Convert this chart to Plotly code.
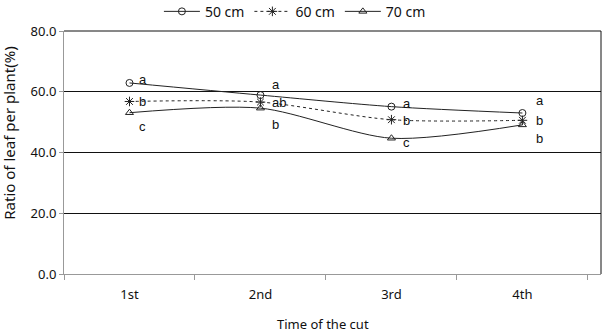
import plotly.graph_objects as go

categories = ["1st", "2nd", "3rd", "4th"]
series_names = ["50 cm", "60 cm", "70 cm"]
v50 = [62.9, 58.9, 55.1, 53.0]
v60 = [56.8, 56.6, 50.8, 50.6]
v70 = [53.1, 54.6, 44.7, 49.1]
letters50 = ["a", "a", "a", "a"]
letters60 = ["b", "ab", "b", "b"]
letters70 = ["c", "b", "c", "b"]
y_ticks = [0, 20, 40, 60, 80]
y_ticktext = ["0.0", "20.0", "40.0", "60.0", "80.0"]

# label offsets in pixels (style)
shift50 = [(12, 3), (14, 11), (14, 3), (16, 13)]
shift60 = [(12, 0), (14, 0), (14, -1), (16, 0)]
shift70 = [(12, -14), (14, -16), (14, -4), (16, -14)]

xs = list(range(len(categories)))
fig = go.Figure()
styles = [
    (v50, "circle-open", "solid", 7),
    (v60, "asterisk-open", "dot", 8),
    (v70, "triangle-up-open", "solid", 7),
]
for name, (vals, sym, dash, ms) in zip(series_names, styles):
    fig.add_trace(go.Scatter(
        x=xs, y=vals, name=name, mode="lines+markers",
        line=dict(color="#222222", width=1, dash=dash, shape="spline", smoothing=0.8),
        marker=dict(symbol=sym, size=ms, color="#222222", line=dict(width=1, color="#222222")),
    ))

for vals, letters, shifts in [(v50, letters50, shift50), (v60, letters60, shift60), (v70, letters70, shift70)]:
    for x, v, t, (dx, dy) in zip(xs, vals, letters, shifts):
        fig.add_annotation(x=x, y=v, text=t, showarrow=False, xanchor="left", yanchor="middle",
                           xshift=dx - 4, yshift=dy,
                           font=dict(family="Liberation Sans, Arial", size=13, color="#111111"))

fig.add_annotation(xref="paper", yref="paper", x=0.483, y=-0.205, text="Time of the cut",
                   showarrow=False, xanchor="center", yanchor="middle",
                   font=dict(family="Noto Sans", size=13, color="#111111"))
fig.add_annotation(xref="paper", yref="paper", x=-0.103, y=0.58, text="Ratio of leaf per plant(%)",
                   showarrow=False, textangle=-90, xanchor="center", yanchor="middle",
                   font=dict(family="Noto Sans", size=15, color="#111111"))

fig.update_layout(
    width=602, height=333,
    margin=dict(l=64, r=1, t=31, b=59, autoexpand=False),
    paper_bgcolor="white", plot_bgcolor="white",
    font=dict(family="Noto Sans", size=13, color="#111111"),
    showlegend=True,
    legend=dict(orientation="h", x=0.43, xanchor="center", y=1.145, yanchor="top",
                font=dict(size=14), itemwidth=36, tracegroupgap=0, bgcolor="rgba(0,0,0,0)"),
    xaxis=dict(range=[-0.5, 3.6], tickvals=xs, ticktext=categories, ticks="", showgrid=False,
               showline=True, linecolor="#999999", linewidth=1, zeroline=False, ticklabelstandoff=8,
               minor=dict(tickvals=[-0.5, 0.5, 1.5, 2.5, 3.5], ticks="outside", ticklen=5,
                          tickcolor="#999999", showgrid=False)),
    yaxis=dict(range=[0, 80], tickvals=y_ticks, ticktext=y_ticktext, ticks="outside", ticklen=4,
               tickcolor="#999999", showgrid=True, gridcolor="#111111", gridwidth=1,
               showline=True, linecolor="#999999", linewidth=1, zeroline=False),
    shapes=[dict(type="line", xref="paper", yref="paper", x0=1, x1=1, y0=0, y1=1,
                 line=dict(color="#111111", width=1)),
            dict(type="line", xref="paper", yref="paper", x0=0, x1=1, y0=1, y1=1,
                 line=dict(color="#111111", width=1))],
)
fig.write_html("out.html")
